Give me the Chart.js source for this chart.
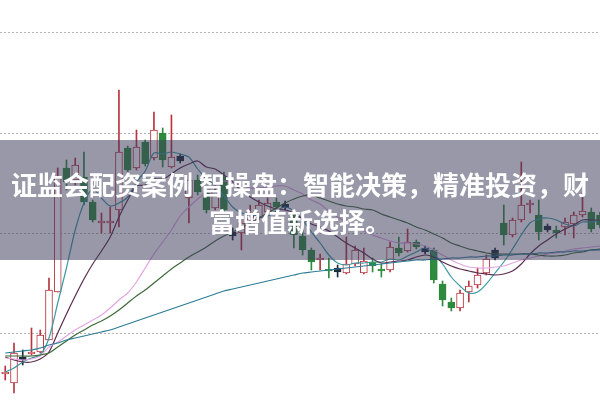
<!DOCTYPE html>
<html lang="zh">
<head>
    <meta charset="UTF-8">
    <title>K线 - 均线</title>
    <script src="https://cdn.jsdelivr.net/npm/chart.js@4.4.0/dist/chart.umd.min.js"></script>
    <style>
        html, body { margin: 0; padding: 0; background: #fff; }
        #wrap { position: relative; width: 600px; height: 400px; overflow: hidden; }
        #banner {
            position: absolute; left: 0; top: 140px; width: 600px; height: 120px;
            background: rgba(60, 58, 90, 0.52);
            color: #fff; text-align: center;
            font-family: "Noto Sans CJK SC", sans-serif; font-weight: 700;
            font-size: 26px; line-height: 37px;
            padding-top: 25px; box-sizing: border-box; white-space: nowrap;
        }
    </style>
</head>
<body>
<div id="wrap">
    <canvas id="kChart" width="600" height="400"></canvas>
    <div id="banner">证监会配资案例 智操盘：智能决策，精准投资，财<br>富增值新选择。</div>
</div>

<script>
    // K线数据 (开, 高, 低, 收)
    var opens  = [5.9, 5.0, 7.6, 7.9, 8.1, 9.3, 14.1, 26.5, 25.3, 25.6,
                  23.1, 21.0, 21.0, 22.3, 28.5, 26.5, 29.1, 27.5, 30.0, 26.6,
                  27.7, 23.5, 25.3, 24.0, 22.5, 25.6, 20.1, 20.0, 21.3, 21.5,
                  22.1, 23.1, 22.9, 21.8, 19.7, 18.3, 17.3, 16.4, 16.5, 16.0,
                  16.9, 16.0, 17.1, 16.4, 16.3, 18.5, 18.2, 19.1, 18.5, 18.3,
                  14.9, 13.1, 12.5, 14.1, 14.8, 16.0, 18.3, 21.0, 19.8, 21.3,
                  22.8, 21.8, 20.7, 20.3, 20.6, 20.9, 21.8, 22.1, 21.8];
    var highs  = [6.7, 9.0, 8.3, 10.5, 10.3, 15.5, 26.5, 27.3, 27.5, 28.1,
                  23.3, 22.0, 22.6, 34.3, 28.7, 30.3, 29.3, 32.1, 30.5, 31.8,
                  27.9, 26.0, 25.8, 24.3, 24.8, 26.1, 20.5, 21.6, 22.8, 23.3,
                  23.5, 23.5, 23.2, 22.3, 20.3, 18.5, 17.9, 17.5, 16.8, 19.6,
                  18.7, 18.5, 17.5, 16.9, 19.1, 19.6, 20.4, 19.3, 18.7, 18.5,
                  15.2, 13.5, 14.3, 15.2, 16.5, 17.8, 18.5, 22.8, 21.5, 27.1,
                  23.3, 23.3, 20.9, 20.7, 21.5, 22.1, 24.0, 22.5, 22.1];
    var lows   = [5.3, 4.0, 6.8, 7.8, 8.0, 9.3, 14.1, 24.3, 24.8, 22.8,
                  21.1, 20.0, 20.0, 20.6, 26.1, 26.3, 26.7, 27.3, 26.6, 26.5,
                  27.0, 21.0, 23.8, 22.0, 22.3, 22.1, 19.3, 18.3, 20.8, 21.3,
                  21.9, 22.3, 22.3, 18.5, 17.8, 16.3, 16.3, 15.5, 15.6, 15.9,
                  16.7, 15.9, 16.1, 15.6, 16.1, 17.7, 18.1, 18.4, 17.9, 15.0,
                  12.7, 12.2, 12.2, 13.1, 14.5, 15.8, 17.3, 18.8, 19.6, 21.1,
                  22.0, 19.3, 20.1, 19.5, 19.8, 19.5, 21.6, 20.1, 20.5];
    var closes = [6.1, 8.0, 7.3, 8.1, 9.8, 14.3, 25.5, 25.1, 26.8, 23.1,
                  21.3, 21.2, 21.2, 28.1, 26.3, 28.6, 26.9, 30.3, 27.3, 27.6,
                  27.2, 25.3, 24.1, 22.3, 24.3, 22.3, 19.7, 21.0, 22.0, 22.8,
                  23.0, 22.6, 22.5, 19.8, 18.3, 17.1, 17.5, 16.2, 16.1, 16.9,
                  18.3, 17.2, 16.7, 16.2, 18.6, 18.0, 19.1, 18.6, 18.1, 15.3,
                  13.3, 12.5, 14.0, 14.7, 15.8, 17.4, 17.5, 19.8, 21.3, 22.8,
                  23.0, 20.1, 20.3, 20.0, 21.1, 21.8, 22.2, 20.4, 20.8];

    // 均线
    var ma5  = [6.1, 6.5, 7.1, 7.5, 7.8, 9.5, 13.0, 16.5, 20.3, 23.0,
                24.4, 23.5, 22.7, 23.0, 23.6, 25.1, 26.2, 28.0, 27.9, 28.1,
                27.9, 27.6, 26.4, 25.4, 24.7, 23.7, 22.6, 22.0, 21.9, 21.6,
                21.7, 22.2, 22.6, 22.2, 21.3, 20.1, 19.0, 17.8, 17.0, 16.8,
                17.0, 17.0, 17.1, 17.1, 17.4, 17.3, 17.7, 18.1, 18.5, 17.9,
                16.9, 15.6, 14.7, 14.0, 14.1, 14.9, 16.0, 17.1, 18.4, 19.8,
                21.0, 21.4, 21.5, 21.3, 20.9, 20.7, 21.1, 21.1, 21.3];
    var ma10 = [7.6, 7.3, 7.1, 7.1, 7.4, 8.1, 10.0, 11.9, 13.7, 15.4,
                16.9, 18.2, 19.6, 21.6, 23.3, 24.7, 24.8, 25.4, 25.4, 25.9,
                26.5, 26.9, 27.2, 26.6, 26.4, 25.8, 25.1, 24.2, 23.6, 23.1,
                22.7, 22.4, 22.3, 22.0, 21.4, 20.9, 20.6, 20.2, 19.6, 19.0,
                18.5, 18.0, 17.4, 17.0, 17.1, 17.2, 17.3, 17.6, 17.8, 17.6,
                17.1, 16.7, 16.4, 16.2, 16.0, 15.9, 15.8, 15.9, 16.2, 16.9,
                17.9, 18.7, 19.3, 19.9, 20.4, 20.8, 21.3, 21.3, 21.3];
    var ma20 = [7.5, 7.4, 7.3, 7.4, 7.7, 8.6, 9.1, 9.7, 10.3, 10.8,
                11.3, 11.8, 12.5, 13.3, 14.0, 15.1, 16.5, 17.9, 19.1, 20.3,
                21.7, 22.6, 23.4, 24.1, 24.8, 25.2, 25.0, 24.8, 24.5, 24.5,
                24.6, 24.7, 24.7, 24.3, 23.9, 23.3, 22.9, 22.2, 21.6, 21.1,
                20.6, 20.2, 19.8, 19.5, 19.2, 19.0, 19.0, 18.9, 18.7, 18.3,
                17.8, 17.3, 16.9, 16.6, 16.5, 16.5, 16.6, 16.7, 17.0, 17.3,
                17.5, 17.7, 17.9, 18.0, 18.2, 18.4, 18.5, 18.6, 18.7];
    var ma30 = [7.7, 7.7, 7.7, 7.7, 7.8, 8.0, 8.6, 9.2, 9.8, 10.3,
                10.8, 11.2, 11.7, 12.3, 13.0, 13.7, 14.3, 15.0, 15.7, 16.4,
                17.0, 17.6, 18.1, 18.6, 19.2, 19.7, 20.1, 20.5, 21.0, 21.5,
                22.0, 22.5, 23.0, 23.4, 23.7, 23.8, 23.5, 23.2, 22.9, 22.7,
                22.6, 22.4, 22.3, 21.9, 21.6, 21.3, 21.0, 20.6, 20.3, 19.9,
                19.5, 19.0, 18.7, 18.4, 18.2, 18.0, 17.9, 17.9, 17.9, 17.9,
                17.9, 17.8, 17.7, 17.7, 17.8, 18.0, 18.1, 18.3, 18.4];
    var ma60 = [8.0, 8.1, 8.2, 8.3, 8.5, 8.8, 9.0, 9.3, 9.5, 9.7,
                9.9, 10.1, 10.3, 10.6, 10.9, 11.2, 11.5, 11.8, 12.1, 12.4,
                12.7, 13.0, 13.3, 13.6, 13.9, 14.2, 14.4, 14.6, 14.8, 15.0,
                15.2, 15.4, 15.6, 15.8, 16.0, 16.1, 16.2, 16.3, 16.4, 16.5,
                16.6, 16.7, 16.8, 16.9, 17.0, 17.1, 17.2, 17.3, 17.3, 17.4,
                17.4, 17.5, 17.5, 17.6, 17.6, 17.7, 17.7, 17.8, 17.8, 17.9,
                17.9, 18.0, 18.0, 18.1, 18.1, 18.2, 18.2, 18.3, 18.3];

    // 十字星 / 特殊标记 (画成深色)
    var darkMarks = [2, 20, 26, 32, 38, 48, 56, 62];
    var gridTicks = [10, 20, 30, 40];

    var upColor = '#b8343f';
    var downColor = '#2e8a3d';
    var darkColor = '#1d2b3a';

    function colorOf(i) {
        if (darkMarks.indexOf(i) >= 0) return darkColor;
        return closes[i] >= opens[i] ? upColor : downColor;
    }

    var wickData = opens.map(function (o, i) { return {x: i, y: [lows[i], highs[i]]}; });
    var bodyData = opens.map(function (o, i) { return {x: i, y: [o, closes[i]]}; });

    function maLine(values, color, width) {
        return {
            type: 'line',
            data: values.map(function (v, i) { return {x: i, y: v}; }),
            borderColor: color,
            borderWidth: width,
            pointRadius: 0,
            tension: 0.3,
            order: 1
        };
    }

    var ctx = document.getElementById('kChart').getContext('2d');
    var chart = new Chart(ctx, {
        type: 'bar',
        data: {
            datasets: [
                maLine(ma60, '#2c7d96', 1.2),
                maLine(ma30, '#3d6a38', 1.2),
                maLine(ma20, '#e3a6e3', 1.2),
                maLine(ma10, '#5b2c4c', 1.2),
                maLine(ma5, '#3b9aa3', 1.2),
                {
                    data: bodyData,
                    grouped: false,
                    barThickness: 7,
                    minBarLength: 1,
                    borderWidth: 1,
                    borderSkipped: false,
                    borderColor: function (c) { return colorOf(c.dataIndex); },
                    backgroundColor: function (c) {
                        var i = c.dataIndex;
                        if (darkMarks.indexOf(i) >= 0) return darkColor;
                        return closes[i] >= opens[i] ? '#ffffff' : downColor;
                    },
                    order: 2
                },
                {
                    data: wickData,
                    grouped: false,
                    barThickness: 1,
                    borderWidth: 0,
                    backgroundColor: function (c) { return colorOf(c.dataIndex); },
                    order: 3
                }
            ]
        },
        options: {
            responsive: false,
            animation: false,
            layout: {padding: 0},
            plugins: {legend: {display: false}, tooltip: {enabled: false}},
            scales: {
                x: {type: 'linear', min: -0.6, max: 68.0, offset: false, display: false},
                y: {
                    min: 3.3,
                    max: 43.3,
                    afterBuildTicks: function (s) {
                        s.ticks = gridTicks.map(function (v) { return {value: v}; });
                    },
                    ticks: {display: false},
                    grid: {color: '#b5b5b5', lineWidth: 1, drawTicks: false},
                    border: {display: false, dash: [2, 2]}
                }
            }
        }
    });
</script>
</body>
</html>
